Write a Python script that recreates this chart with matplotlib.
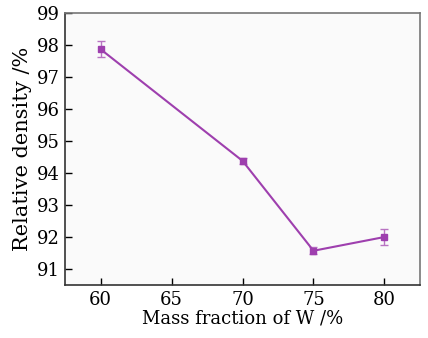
import numpy as np
import matplotlib
matplotlib.use('Agg')
import matplotlib.pyplot as plt

mass_w = [60, 70, 75, 80]
density = [97.87, 94.38, 91.57, 92.0]
density_err = [0.24, 0.10, 0.11, 0.26]

plt.rcParams['font.family'] = ['DejaVu Serif']

fig = plt.figure(figsize=(4.28, 3.38), dpi=100)
ax = fig.add_axes([65/428, 1 - 285/338, 355/428, 272/338])
ax.set_facecolor('#fafafa')

purple = '#9e3fae'
ax.errorbar(mass_w, density, yerr=density_err, color=purple, marker='s',
            markersize=5, linewidth=1.5, capsize=3, elinewidth=1, capthick=1,
            ecolor='#b873c2')

ax.set_xlim(57.5, 82.5)
ax.set_ylim(90.5, 99)
ax.set_xticks([60, 65, 70, 75, 80])
ax.set_yticks(np.arange(91, 100, 1))
ax.tick_params(direction='in', length=5, width=1, labelsize=13, pad=4,
               top=False, right=False)
for s in ['left', 'bottom']:
    ax.spines[s].set_color('#333333')
    ax.spines[s].set_linewidth(1.2)
for s in ['top', 'right']:
    ax.spines[s].set_color('#777777')
    ax.spines[s].set_linewidth(1.2)

ax.set_xlabel('Mass fraction of W /%', fontsize=13, labelpad=1)
ax.set_ylabel('Relative density /%', fontsize=15, labelpad=3)

fig.savefig('out.png', dpi=100)
